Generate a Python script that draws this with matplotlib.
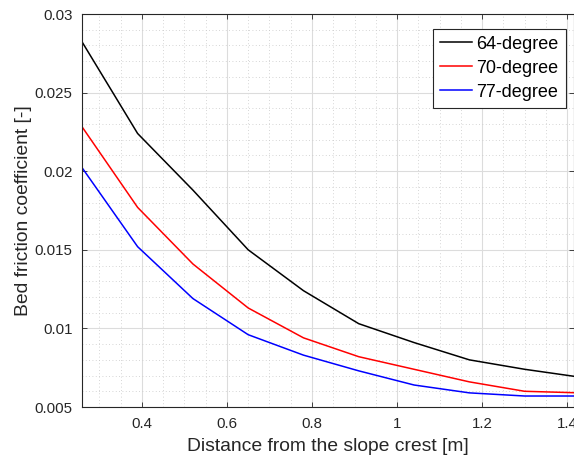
import numpy as np
import matplotlib
matplotlib.use('Agg')
import matplotlib.pyplot as plt
from matplotlib.ticker import MultipleLocator, FormatStrFormatter

# Data
distance = [0.26, 0.39, 0.52, 0.65, 0.78, 0.91, 1.04, 1.17, 1.30, 1.43]
friction_64 = [0.0282, 0.0224, 0.0188, 0.0150, 0.0124, 0.0103, 0.0091, 0.0080, 0.0074, 0.0069]
friction_70 = [0.0228, 0.0177, 0.0141, 0.0113, 0.0094, 0.0082, 0.0074, 0.0066, 0.0060, 0.0059]
friction_77 = [0.0202, 0.0152, 0.0119, 0.0096, 0.0083, 0.0073, 0.0064, 0.0059, 0.0057, 0.0057]
labels = ['64-degree', '70-degree', '77-degree']
colors = ['black', 'red', 'blue']

plt.rcParams['font.family'] = ['Liberation Sans', 'DejaVu Sans']

fig = plt.figure(figsize=(5.74, 4.61), dpi=100)
ax = fig.add_axes([0.1434, 0.1171, 1.0 - 0.1434, 0.8525])

for y, lab, c in zip([friction_64, friction_70, friction_77], labels, colors):
    ax.plot(distance, y, color=c, lw=1.1, label=lab)

ax.set_xlim(0.26, 1.416)
ax.set_ylim(0.005, 0.03)

ax.xaxis.set_major_locator(MultipleLocator(0.2))
ax.xaxis.set_minor_locator(MultipleLocator(0.05))
ax.yaxis.set_major_locator(MultipleLocator(0.005))
ax.yaxis.set_minor_locator(MultipleLocator(0.001))
ax.xaxis.set_major_formatter(FormatStrFormatter('%g'))
ax.yaxis.set_major_formatter(FormatStrFormatter('%g'))

# MATLAB-like grid: solid major, dotted minor
ax.grid(True, which='major', color='#dcdcdc', lw=0.8, ls='-')
ax.grid(True, which='minor', color='#c8c8c8', lw=0.6, ls=(0, (1, 3)))
ax.set_axisbelow(True)

ax.tick_params(which='major', direction='in', length=3.6, width=0.6,
               colors='#262626', labelsize=10.8, top=True, right=True, pad=7)
ax.tick_params(which='minor', length=0)
for s in ax.spines.values():
    s.set_color('#262626')
    s.set_linewidth(0.8)

ax.set_xlabel('Distance from the slope crest [m]', fontsize=13.9, color='#262626', labelpad=5)
ax.set_ylabel('Bed friction coefficient [-]', fontsize=13.9, color='#262626', labelpad=2)

leg = ax.legend(loc='upper right', bbox_to_anchor=(0.9855, 0.9377), bbox_transform=fig.transFigure,
                borderaxespad=0, fontsize=13, fancybox=False, framealpha=1,
                edgecolor='#262626', handlelength=1.8, handletextpad=0.25,
                labelspacing=0.39, borderpad=0.38)
leg.get_frame().set_linewidth(0.8)

fig.savefig('out.png', dpi=100)
